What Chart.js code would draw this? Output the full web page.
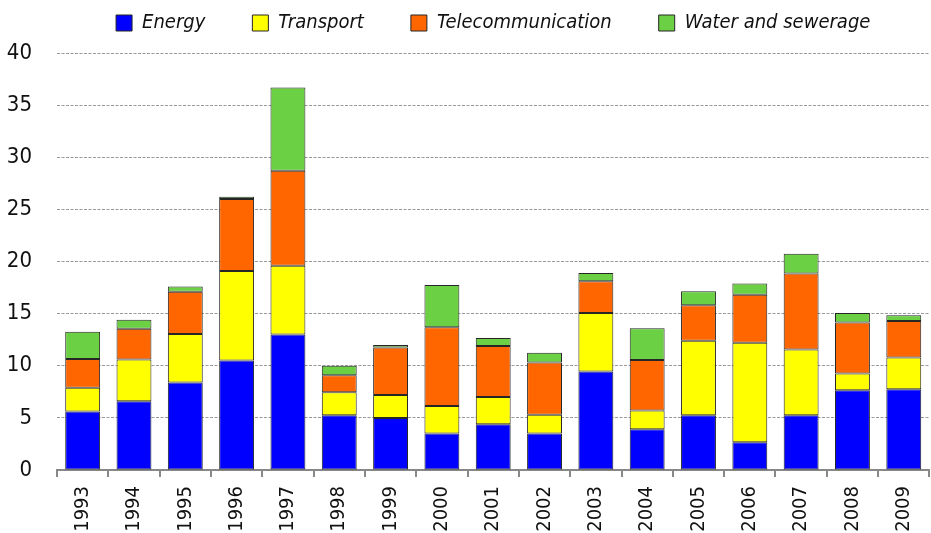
<!DOCTYPE html>
<html>
<head>
<meta charset="utf-8">
<script src="https://cdn.jsdelivr.net/npm/chart.js@4"></script>
<style>
  html, body { margin: 0; padding: 0; background: #fff; overflow: hidden; }
  #wrap { width: 937px; height: 533px; }
</style>
</head>
<body>
<div id="wrap"><canvas id="chart" width="937" height="533"></canvas></div>
<script>
// values
const years = ['1993', '1994', '1995', '1996', '1997', '1998', '1999', '2000', '2001',
  '2002', '2003', '2004', '2005', '2006', '2007', '2008', '2009'];
const energy = [5.6, 6.6, 8.4, 10.5, 13.0, 5.25, 5.0, 3.5, 4.4, 3.5, 9.45, 3.9, 5.25, 2.65, 5.25, 7.65, 7.75];
const transport = [2.3, 4.0, 4.65, 8.6, 6.6, 2.2, 2.2, 2.65, 2.6, 1.8, 5.6, 1.8, 7.15, 9.55, 6.3, 1.6, 3.05];
const telecom = [2.75, 2.95, 4.05, 6.9, 9.1, 1.65, 4.55, 7.55, 4.9, 5.0, 3.05, 4.85, 3.4, 4.6, 7.3, 4.9, 3.5];
const water = [2.6, 0.87, 0.5, 0.2, 8.0, 0.9, 0.25, 4.05, 0.75, 0.95, 0.8, 3.05, 1.35, 1.1, 1.9, 0.9, 0.55];
const yTicks = [0, 5, 10, 15, 20, 25, 30, 35, 40];

const fontFamily = "'Liberation Sans Narrow', 'DejaVu Sans Condensed', 'Liberation Sans', sans-serif";

function series(label, data, color) {
  return {
    label: label,
    data: data,
    backgroundColor: color,
    borderColor: '#262626',
    borderWidth: 1,
    borderSkipped: false,
    barPercentage: 0.68,
    categoryPercentage: 1.0
  };
}

// legend needs some extra room below it
const legendSpacer = {
  id: 'legendSpacer',
  beforeInit(chart) {
    const origFit = chart.legend.fit;
    chart.legend.fit = function () {
      origFit.bind(chart.legend)();
      this.height = 87;
    };
  }
};

new Chart(document.getElementById('chart'), {
  type: 'bar',
  data: {
    labels: years,
    datasets: [
      series('Energy', energy, '#0000ff'),
      series('Transport', transport, '#ffff00'),
      series('Telecommunication', telecom, '#ff6600'),
      series('Water and sewerage', water, '#6cd044')
    ]
  },
  plugins: [legendSpacer],
  options: {
    responsive: false,
    animation: false,
    layout: { padding: { top: -34, left: 0, right: 0, bottom: 0 } },
    plugins: {
      tooltip: { enabled: false },
      legend: {
        position: 'top',
        fullSize: false,
        labels: {
          boxWidth: 16,
          boxHeight: 16,
          padding: 47,
          color: '#111',
          font: { family: fontFamily, size: 20, style: 'italic' }
        }
      }
    },
    scales: {
      x: {
        stacked: true,
        offset: true,
        afterFit: (scale) => { scale.height = 63; },
        grid: {
          display: true,
          offset: true,
          drawOnChartArea: false,
          drawTicks: true,
          tickLength: 7,
          color: '#888',
          lineWidth: 2
        },
        border: { display: true, color: '#888', width: 2 },
        ticks: {
          minRotation: 90,
          maxRotation: 90,
          padding: 9,
          color: '#111',
          font: { family: fontFamily, size: 20 }
        }
      },
      y: {
        stacked: true,
        min: 0,
        max: 40,
        afterFit: (scale) => { scale.width = 57; },
        afterBuildTicks: (scale) => { scale.ticks = yTicks.map(v => ({ value: v })); },
        grid: {
          color: '#9a9a9a',
          lineWidth: 1,
          drawTicks: false
        },
        border: { display: false, dash: [3, 1.5] },
        ticks: {
          padding: 25,
          color: '#111',
          font: { family: fontFamily, size: 22 }
        }
      }
    }
  }
});
</script>
</body>
</html>
